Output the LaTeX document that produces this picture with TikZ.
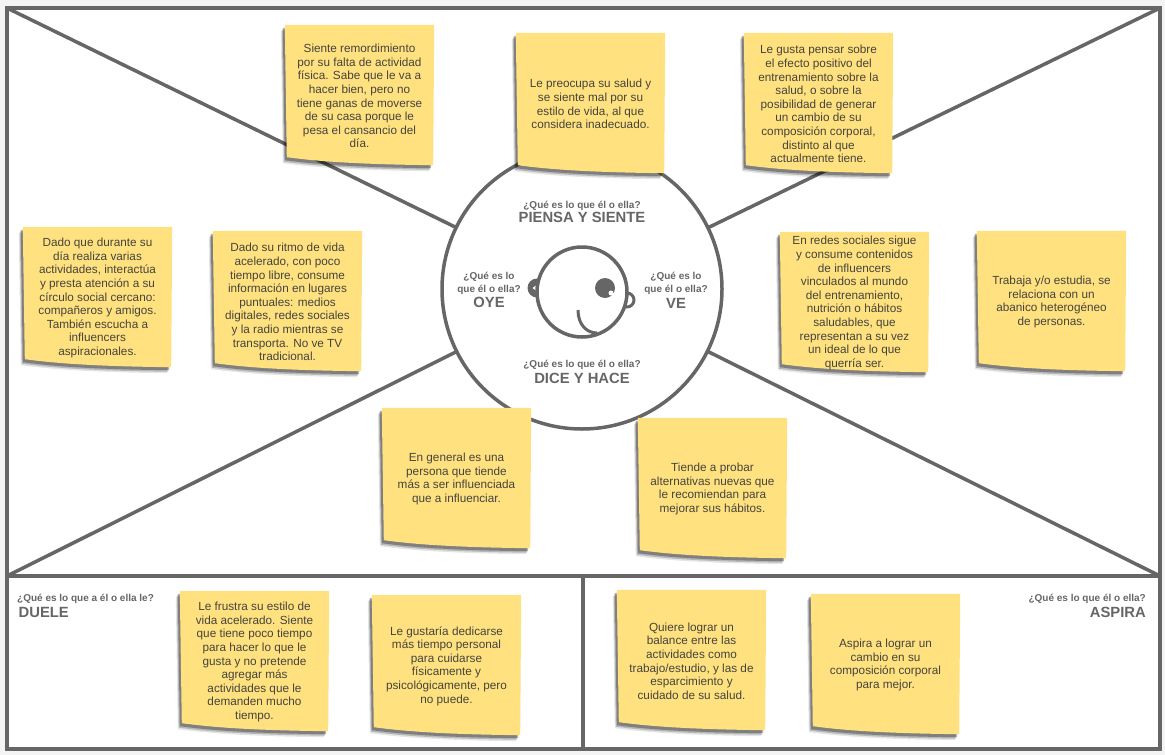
\documentclass[tikz,border=0pt]{standalone}
\usepackage{fontspec}
\setmainfont{Liberation Sans}
\usepackage{xcolor}
\usetikzlibrary{calc,shadows}
\definecolor{Line}{HTML}{666666}
\definecolor{Paper}{HTML}{F4F4F5}
\definecolor{Sticky}{HTML}{FFE27F}
\definecolor{Ink}{HTML}{45433D}
\pgfdeclarelayer{canvas}
\pgfdeclarelayer{notes}
\pgfsetlayers{canvas,notes,main}
\tikzset{
  panel/.style={draw=Line,line width=3.5pt,fill=white,inner sep=0pt,outer sep=0pt,anchor=north west},
  divider/.style={draw=Line,line width=3.5pt},
  notebox/.style={minimum width=149pt,minimum height=140pt,inner sep=0pt,align=center,text=Ink,
    font=\fontsize{11.75}{13.6}\selectfont},
  notefill/.style={fill=Sticky,
    drop shadow={shadow xshift=-4pt,shadow yshift=-6pt,fill=black,opacity=.1},
    drop shadow={shadow xshift=-3pt,shadow yshift=-4.5pt,fill=black,opacity=.2},
    drop shadow={shadow xshift=-2pt,shadow yshift=-3pt,fill=black,opacity=.3}},
  asktext/.style={align=center,text=Line,inner sep=0pt,font=\fontsize{10}{13.6}\selectfont\bfseries},
}
\newcommand{\Tag}{\fontsize{14.8}{14.8}\selectfont\bfseries}
\newcommand{\Note}[4]{%
  \node[notebox] (#1) at (#2+74.5,#3+71) {#4};
  \begin{pgfonlayer}{notes}
    \path[notefill] ($(#1.north west)+(0,-1)$) -- ($(#1.north east)+(0,-1)$) -- ($(#1.south east)+(-1,-1)$)
      .. controls ($(#1.south west)+(60,-2)$) and ($(#1.south west)+(25,-6)$) .. ($(#1.south west)+(2,-9)$) -- cycle;
  \end{pgfonlayer}}
\begin{document}
\begin{tikzpicture}[x=1pt,y=-1pt]
  \useasboundingbox (0,0) rectangle (1165,755);
  \begin{pgfonlayer}{canvas}
    \fill[Paper] (0,0) rectangle (1165,755);
    \node[panel,minimum width=1153pt,minimum height=568pt] (top) at (7,8) {};
    \node[panel,minimum width=576pt,minimum height=173pt] (pain) at (7,576) {};
    \node[panel,minimum width=577pt,minimum height=173pt] (gain) at (583,576) {};
    \coordinate (mid) at (582,289);
    \draw[divider] (top.north west) -- (mid);
    \draw[divider] (top.north east) -- (mid);
    \draw[divider] (top.south west) -- (mid);
    \draw[divider] (top.south east) -- (mid);
    \node[circle,draw=Line,line width=3.5pt,fill=white,minimum size=280pt,inner sep=0pt,outer sep=0pt] (ring) at (mid) {};
  \end{pgfonlayer}

  % head
  \fill[Line] (537,288) circle (9.5);
  \fill[white] (532.5,288) -- (536,285.5) -- (536,290.5) -- cycle;
  \draw[Line,line width=3pt] (627,300) circle (7);
  \node[circle,draw=Line,line width=3.5pt,fill=white,minimum size=90pt,inner sep=0pt,outer sep=0pt] (head) at (582,292) {};
  \fill[Line] (605,288) circle (10);
  \fill[white] (611,293) circle (2.5);
  \draw[Line,line width=3pt] (578,310) .. controls (578,325) and (587,333) .. (597,333);

  % labels
  \node[asktext] (piensa) at (582,212) {¿Qué es lo que él o ella?\\[1pt]{\Tag PIENSA Y SIENTE}};
  \node[asktext] (dice) at (582,372) {¿Qué es lo que él o ella?\\[2.5pt]{\Tag DICE Y HACE}};
  \node[asktext] (oye) at (489,290) {¿Qué es lo\\que él o ella?\\[1.5pt]{\Tag OYE}};
  \node[asktext] (ve) at (676,290) {¿Qué es lo\\que él o ella?\\[1.5pt]{\Tag VE}};
  \node[asktext,align=left,anchor=north west] (duele) at (17,594) {¿Qué es lo que a él o ella le?\\[2pt]{\Tag\kern1.5pt DUELE}};
  \node[asktext,align=right,anchor=north east] (aspira) at (1146,594) {¿Qué es lo que él o ella?\\[2pt]{\Tag ASPIRA}};

  % sticky notes
  \Note{piensaA}{285}{25}{Siente remordimiento\\por su falta de actividad\\física. Sabe que le va a\\hacer bien, pero no\\tiene ganas de moverse\\de su casa porque le\\pesa el cansancio del\\día.}
  \Note{piensaB}{516}{33}{Le preocupa su salud y\\se siente mal por su\\estilo de vida, al que\\considera inadecuado.}
  \Note{piensaC}{744}{33}{Le gusta pensar sobre\\el efecto positivo del\\entrenamiento sobre la\\salud, o sobre la\\posibilidad de generar\\un cambio de su\\composición corporal,\\distinto al que\\actualmente tiene.}
  \Note{oyeA}{23}{227}{Dado que durante su\\día realiza varias\\actividades, interactúa\\y presta atención a su\\círculo social cercano:\\compañeros y amigos.\\También escucha a\\influencers\\aspiracionales.}
  \Note{oyeB}{213}{231}{Dado su ritmo de vida\\acelerado, con poco\\tiempo libre, consume\\información en lugares\\puntuales: medios\\digitales, redes sociales\\y la radio mientras se\\transporta. No ve TV\\tradicional.}
  \Note{veA}{780}{232}{En redes sociales sigue\\y consume contenidos\\de influencers\\vinculados al mundo\\del entrenamiento,\\nutrición o hábitos\\saludables, que\\representan a su vez\\un ideal de lo que\\querría ser.}
  \Note{veB}{977}{231}{Trabaja y/o estudia, se\\relaciona con un\\abanico heterogéneo\\de personas.}
  \Note{diceA}{382}{408}{En general es una\\persona que tiende\\más a ser influenciada\\que a influenciar.}
  \Note{diceB}{638}{418}{Tiende a probar\\alternativas nuevas que\\le recomiendan para\\mejorar sus hábitos.}
  \Note{dueleA}{180}{591}{Le frustra su estilo de\\vida acelerado. Siente\\que tiene poco tiempo\\para hacer lo que le\\gusta y no pretende\\agregar más\\actividades que le\\demanden mucho\\tiempo.}
  \Note{dueleB}{372}{595}{Le gustaría dedicarse\\más tiempo personal\\para cuidarse\\físicamente y\\psicológicamente, pero\\no puede.}
  \Note{aspiraA}{617}{590}{Quiere lograr un\\balance entre las\\actividades como\\trabajo/estudio, y las de\\esparcimiento y\\cuidado de su salud.}
  \Note{aspiraB}{811}{594}{Aspira a lograr un\\cambio en su\\composición corporal\\para mejor.}
\end{tikzpicture}
\end{document}
